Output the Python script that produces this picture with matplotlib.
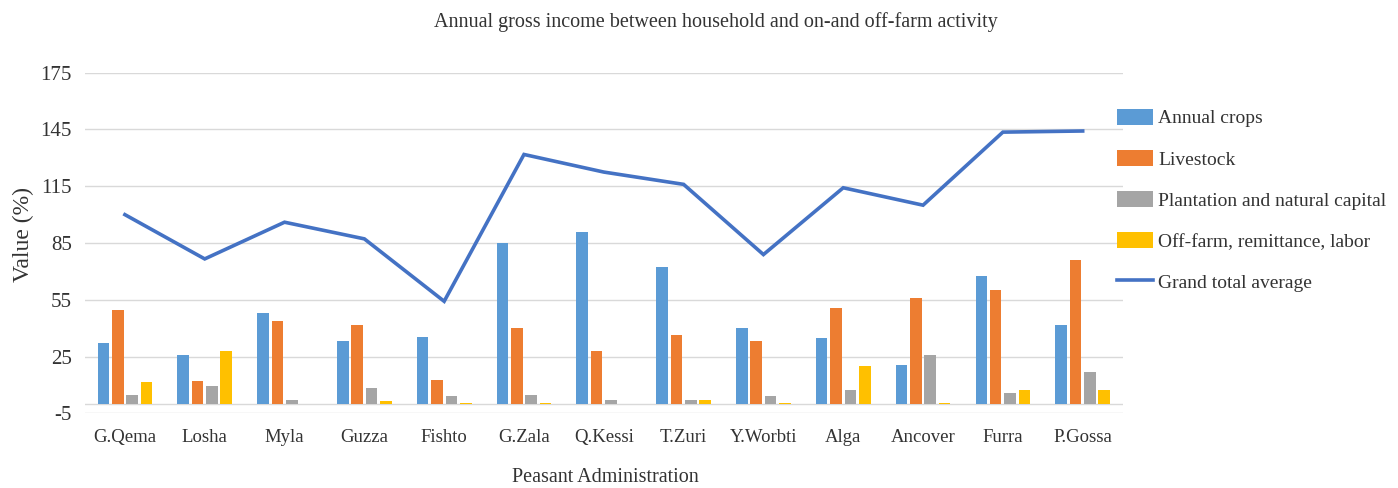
import matplotlib
matplotlib.use("Agg")
import matplotlib.pyplot as plt
import numpy as np
from matplotlib.patches import Patch
from matplotlib.lines import Line2D

categories = ["G.Qema", "Losha", "Myla", "Guzza", "Fishto", "G.Zala", "Q.Kessi",
              "T.Zuri", "Y.Worbti", "Alga", "Ancover", "Furra", "P.Gossa"]
annual_crops = [32.1, 25.9, 48.0, 33.0, 35.6, 85.0, 90.7, 72.4, 40.0, 34.8, 20.6, 67.8, 41.8]
livestock = [49.8, 12.2, 43.6, 41.6, 12.7, 40.0, 27.7, 36.5, 33.0, 50.6, 55.9, 60.3, 75.9]
plantation = [4.8, 9.2, 2.1, 8.3, 3.9, 4.8, 2.1, 2.1, 3.9, 7.4, 25.9, 5.6, 16.6]
off_farm = [11.8, 27.7, 0.0, 1.6, 0.4, 0.3, 0.0, 2.1, 0.3, 19.8, 0.3, 7.4, 7.4]
grand_total = [100.0, 76.6, 96.0, 87.2, 54.2, 131.8, 122.5, 116.0, 78.9, 114.2, 105.0, 143.6, 144.2]
y_ticks = [-5, 25, 55, 85, 115, 145, 175]

series_names = ["Annual crops", "Livestock", "Plantation and natural capital",
                "Off-farm, remittance, labor"]
colors = ["#5B9BD5", "#ED7D31", "#A5A5A5", "#FFC000"]
line_color = "#4472C4"

plt.rcParams['font.family'] = ['Liberation Serif', 'DejaVu Serif']
plt.rcParams['axes.unicode_minus'] = False

fig = plt.figure(figsize=(13.98, 4.88), dpi=100)
ax = fig.add_axes([0.0608, 0.153, 0.803 - 0.0608, 0.851 - 0.153])

x = np.arange(len(categories))
step = 0.18
width = 0.145
series = [annual_crops, livestock, plantation, off_farm]
for i, (vals, c) in enumerate(zip(series, colors)):
    ax.bar(x + (i - 1.5) * step, vals, width=width, color=c, zorder=3)

ax.plot(x, grand_total, color=line_color, linewidth=2.6, zorder=4, solid_joinstyle='miter')

ax.set_xlim(-0.5, len(categories) - 0.5)
ax.set_ylim(-5, 175)
ax.set_yticks(y_ticks)
ax.set_xticks(x)
ax.set_xticklabels(categories, fontsize=13.5)
ax.tick_params(axis='y', labelsize=15, length=0, pad=9.5, labelcolor='#333333')
ax.tick_params(axis='x', length=0, pad=11, labelcolor='#333333')
ax.grid(axis='y', color='#D9D9D9', linewidth=1.0, zorder=0)
ax.axhline(0, color='#D9D9D9', linewidth=1.0, zorder=2)
for s in ax.spines.values():
    s.set_visible(False)

fig.text(23 / 1398, 1 - 235 / 488, "Value (%)", rotation=90, ha='center', va='center',
         fontsize=17, color='#333333')
fig.text(605 / 1398, 1 - 477 / 488, "Peasant Administration", ha='center', va='center',
         fontsize=14.5, color='#333333')
fig.text(716 / 1398, 1 - 22 / 488, "Annual gross income between household and on-and off-farm activity",
         ha='center', va='center', fontsize=14.5, color='#333333')

handles = [Patch(facecolor=c, edgecolor='none') for c in colors]
handles.append(Line2D([0], [0], color=line_color, linewidth=2.6))
fig.legend(handles, series_names + ["Grand total average"], loc='upper left',
           bbox_to_anchor=(1117 / 1398, 1 - 109 / 488), frameon=False, fontsize=14,
           labelspacing=1.16, handlelength=1.85, handleheight=0.85, handletextpad=0.28,
           borderaxespad=0, borderpad=0, labelcolor='#333333')

fig.savefig("out.png", dpi=100)
